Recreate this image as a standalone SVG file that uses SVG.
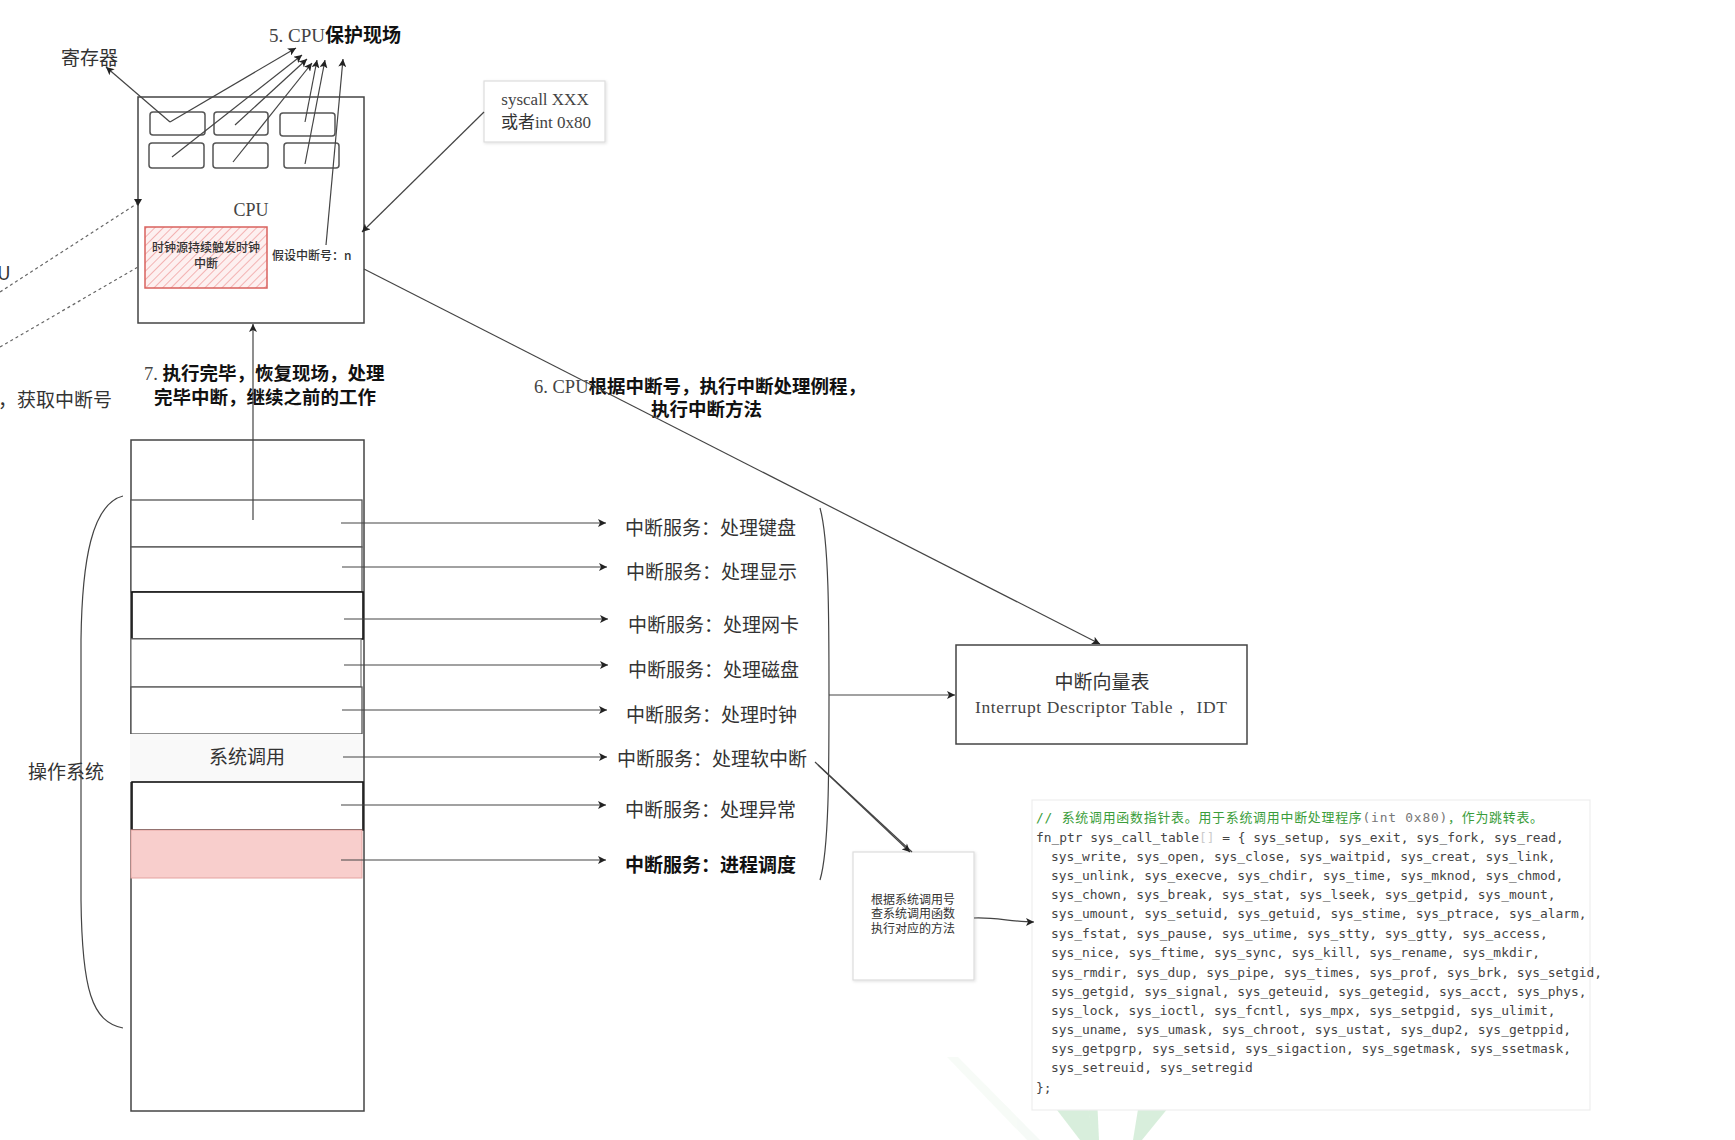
<svg xmlns="http://www.w3.org/2000/svg" width="1735" height="1140" viewBox="0 0 1735 1140">
<defs>
<style>
.ln{stroke:#444;stroke-width:1.2;fill:none}
.dash{stroke:#666;stroke-width:1.2;fill:none;stroke-dasharray:3 3}
.box{fill:#fff;stroke:#444;stroke-width:1.5}
.reg{fill:#fff;stroke:#555;stroke-width:1.5}
.cj{font-family:"Noto Sans CJK SC","Noto Sans",sans-serif;fill:#333}
.sf{font-family:"Liberation Serif","DejaVu Serif",serif;fill:#444}
.lbl{font-family:"Noto Sans CJK SC","Noto Sans",sans-serif;font-size:19px;fill:#333}
.bold{font-weight:bold;fill:#111}
.code{font-family:"DejaVu Sans Mono","Liberation Mono","Noto Sans CJK SC",monospace;font-size:12.9px;fill:#444}
.cmt{fill:#3a9d3a}
.light{fill:#fff;stroke:#ddd;stroke-width:1.2}
</style>
<marker id="arr" viewBox="0 0 10 10" refX="10" refY="5" markerWidth="9" markerHeight="8" markerUnits="userSpaceOnUse" orient="auto">
<path d="M0,0 L10,5 L0,10 L2.5,5 z" fill="#222"/>
</marker>
<pattern id="hatch" width="6" height="6" patternUnits="userSpaceOnUse" patternTransform="rotate(45)">
<rect width="6" height="6" fill="#fdf0f0"/>
<line x1="0" y1="0" x2="0" y2="6" stroke="#f3b3b3" stroke-width="2"/>
</pattern>
<filter id="sh" x="-10%" y="-10%" width="130%" height="130%">
<feDropShadow dx="1" dy="1" stdDeviation="1.5" flood-color="#000" flood-opacity="0.12"/>
</filter>
</defs>
<rect width="1735" height="1140" fill="#fff"/>

<g id="watermark" opacity="0.6">
<polygon points="947,1057 958,1057 1040,1140 1027,1140" fill="#f1f8f2"/>
<polygon points="1047,1097 1087,1097 1093,1140 1080,1140" fill="#bfe4c5"/>
<polygon points="1087,1097 1097,1097 1099,1140 1092,1140" fill="#bfe4c5"/>
<polygon points="1140,1097 1177,1097 1142,1140 1133,1140" fill="#bfe4c5"/>
<rect x="1032" y="1060" width="3" height="16" fill="#b6dfbd"/>
</g>

<g id="cpu">
<rect class="box" x="138" y="97" width="226" height="226"/>
<text class="sf" x="251" y="216" font-size="18" text-anchor="middle" fill="#555">CPU</text>
</g>
<g id="registers">
<rect class="reg" x="150" y="112" width="55" height="23" rx="3"/>
<rect class="reg" x="214" y="112" width="54" height="23" rx="3"/>
<rect class="reg" x="280" y="113" width="55" height="23" rx="3"/>
<rect class="reg" x="149" y="143" width="55" height="25" rx="3"/>
<rect class="reg" x="213" y="143" width="55" height="25" rx="3"/>
<rect class="reg" x="284" y="143" width="55" height="25" rx="3"/>
</g>
<g id="clock">
<rect x="145" y="227" width="122" height="61" fill="url(#hatch)" stroke="#d9625e" stroke-width="1.5"/>
<text class="cj" x="206" y="252" font-size="12" font-weight="500" text-anchor="middle" fill="#222">时钟源持续触发时钟</text>
<text class="cj" x="206" y="268" font-size="12" font-weight="500" text-anchor="middle" fill="#222">中断</text>
</g>
<g id="intno">
<text class="cj" x="272" y="260" font-size="12" font-weight="500" fill="#222">假设中断号：n</text>
</g>
<g id="reg-label">
<text class="lbl" x="61" y="65">寄存器</text>
</g>
<g id="step5">
<text x="269" y="42" font-size="19"><tspan class="sf" fill="#222">5. CPU</tspan><tspan class="cj bold">保护现场</tspan></text>
</g>
<g id="syscall">
<rect class="light" x="484" y="81" width="121" height="61" filter="url(#sh)"/>
<text class="sf" x="545" y="105" font-size="17" text-anchor="middle">syscall XXX</text>
<text x="546" y="128" font-size="17" text-anchor="middle"><tspan class="cj" fill="#444">或者</tspan><tspan class="sf">int 0x80</tspan></text>
</g>
<g id="left-texts">
<text class="lbl" x="-3" y="280" fill="#555">U</text>
<text class="lbl" x="-2" y="407" fill="#444">，获取中断号</text>
</g>
<g id="step7">
<text x="144" y="380" font-size="18.5"><tspan class="sf" fill="#222">7. </tspan><tspan class="cj bold">执行完毕，恢复现场，处理</tspan></text>
<text class="cj bold" x="154" y="404" font-size="18.5">完毕中断，继续之前的工作</text>
</g>
<g id="step6">
<text x="534" y="393" font-size="18.5"><tspan class="sf" fill="#222">6. CPU</tspan><tspan class="cj bold">根据中断号，执行中断处理例程，</tspan></text>
<text class="cj bold" x="651" y="416" font-size="18.5">执行中断方法</text>
</g>

<g id="os">
<rect class="box" x="131" y="440" width="233" height="671"/>
<rect x="131" y="500" width="231" height="47" fill="#fff" stroke="#555" stroke-width="1.3"/>
<rect x="131" y="547" width="231" height="45" fill="#fff" stroke="#555" stroke-width="1.3"/>
<rect x="132" y="592" width="231" height="47" fill="#fff" stroke="#111" stroke-width="1.6"/>
<rect x="131" y="639" width="230" height="48" fill="#fff" stroke="#777" stroke-width="1.2"/>
<rect x="131" y="687" width="231" height="47" fill="#fff" stroke="#555" stroke-width="1.3"/>
<rect x="130" y="734" width="233" height="48" fill="#f9f9f9" stroke="none"/>
<text class="lbl" x="247" y="764" text-anchor="middle">系统调用</text>
<rect x="132" y="782" width="231" height="48" fill="#fff" stroke="#111" stroke-width="1.6"/>
<rect x="131" y="830" width="231" height="48" fill="#f8cecc" stroke="#e5a3a0" stroke-width="1"/>
</g>
<g id="os-label">
<path class="ln" d="M123,496 C92,504 82,560 81,640 L81,900 C82,990 92,1022 123,1028" stroke="#555"/>
<text class="lbl" x="28" y="779">操作系统</text>
</g>

<g id="services">
<text class="lbl" x="625" y="535">中断服务：处理键盘</text>
<text class="lbl" x="626" y="579">中断服务：处理显示</text>
<text class="lbl" x="628" y="632">中断服务：处理网卡</text>
<text class="lbl" x="628" y="677">中断服务：处理磁盘</text>
<text class="lbl" x="626" y="722">中断服务：处理时钟</text>
<text class="lbl" x="617" y="766">中断服务：处理软中断</text>
<text class="lbl" x="625" y="817">中断服务：处理异常</text>
<text class="lbl bold" x="625" y="872">中断服务：进程调度</text>
<path class="ln" d="M820,508 C829,540 829,620 829,695 C829,770 829,850 820,880" stroke="#555"/>
</g>

<g id="idt">
<rect class="box" x="956" y="645" width="291" height="99"/>
<text class="lbl" x="1102" y="689" text-anchor="middle">中断向量表</text>
<text class="sf" x="975" y="713" font-size="17.5" textLength="252" lengthAdjust="spacing" fill="#555">Interrupt Descriptor Table， IDT</text>
</g>

<g id="lookup">
<rect class="light" x="853" y="852" width="121" height="128" filter="url(#sh)"/>
<text class="cj" x="913" y="904" font-size="12" text-anchor="middle">根据系统调用号</text>
<text class="cj" x="913" y="918" font-size="12" text-anchor="middle">查系统调用函数</text>
<text class="cj" x="913" y="933" font-size="12" text-anchor="middle">执行对应的方法</text>
</g>

<g id="code">
<rect x="1032" y="800" width="558" height="310" fill="#fff" stroke="#eee" stroke-width="1.2"/>
<text class="code cmt" x="1036" y="821.5" textLength="507" lengthAdjust="spacing">// 系统调用函数指针表。用于系统调用中断处理程序<tspan fill="#777">(int 0x80)</tspan>，作为跳转表。</text>
<text class="code" x="1036" y="841.5">fn_ptr sys_call_table<tspan fill="#ccc">[]</tspan> = { sys_setup, sys_exit, sys_fork, sys_read,</text>
<text class="code" x="1051" y="860.5">sys_write, sys_open, sys_close, sys_waitpid, sys_creat, sys_link,</text>
<text class="code" x="1051" y="879.5">sys_unlink, sys_execve, sys_chdir, sys_time, sys_mknod, sys_chmod,</text>
<text class="code" x="1051" y="898.5">sys_chown, sys_break, sys_stat, sys_lseek, sys_getpid, sys_mount,</text>
<text class="code" x="1051" y="917.5">sys_umount, sys_setuid, sys_getuid, sys_stime, sys_ptrace, sys_alarm,</text>
<text class="code" x="1051" y="937.5">sys_fstat, sys_pause, sys_utime, sys_stty, sys_gtty, sys_access,</text>
<text class="code" x="1051" y="956.5">sys_nice, sys_ftime, sys_sync, sys_kill, sys_rename, sys_mkdir,</text>
<text class="code" x="1051" y="976.5">sys_rmdir, sys_dup, sys_pipe, sys_times, sys_prof, sys_brk, sys_setgid,</text>
<text class="code" x="1051" y="995.5">sys_getgid, sys_signal, sys_geteuid, sys_getegid, sys_acct, sys_phys,</text>
<text class="code" x="1051" y="1014.5">sys_lock, sys_ioctl, sys_fcntl, sys_mpx, sys_setpgid, sys_ulimit,</text>
<text class="code" x="1051" y="1033.5">sys_uname, sys_umask, sys_chroot, sys_ustat, sys_dup2, sys_getppid,</text>
<text class="code" x="1051" y="1052.5">sys_getpgrp, sys_setsid, sys_sigaction, sys_sgetmask, sys_ssetmask,</text>
<text class="code" x="1051" y="1071.5">sys_setreuid, sys_setregid</text>
<text class="code" x="1036" y="1091.5" fill="#999">};</text>
</g>

<g id="connectors">
<line class="ln" x1="170" y1="122" x2="106" y2="67" marker-end="url(#arr)"/>
<line class="ln" x1="170" y1="122" x2="296" y2="48" marker-end="url(#arr)"/>
<line class="ln" x1="172" y1="157" x2="302" y2="55" marker-end="url(#arr)"/>
<line class="ln" x1="235" y1="125" x2="307" y2="59" marker-end="url(#arr)"/>
<line class="ln" x1="233" y1="162" x2="312" y2="63" marker-end="url(#arr)"/>
<line class="ln" x1="305" y1="122" x2="317" y2="60" marker-end="url(#arr)"/>
<line class="ln" x1="305" y1="164" x2="325" y2="60" marker-end="url(#arr)"/>
<line class="ln" x1="326" y1="245" x2="343" y2="59" marker-end="url(#arr)"/>
<line class="ln" x1="484" y1="112" x2="362" y2="232" marker-end="url(#arr)"/>
<line class="dash" x1="0" y1="292" x2="138" y2="203"/>
<polygon points="134,199 142,199 138,206" fill="#222"/>
<line class="dash" x1="0" y1="347" x2="138" y2="267"/>
<line class="ln" x1="253" y1="520" x2="253" y2="324" marker-end="url(#arr)"/>
<line class="ln" x1="364" y1="269" x2="1100" y2="644" marker-end="url(#arr)"/>
<line class="ln" x1="341" y1="523" x2="606" y2="523" marker-end="url(#arr)"/>
<line class="ln" x1="342" y1="567" x2="607" y2="567" marker-end="url(#arr)"/>
<line class="ln" x1="344" y1="619" x2="608" y2="619" marker-end="url(#arr)"/>
<line class="ln" x1="344" y1="665" x2="608" y2="665" marker-end="url(#arr)"/>
<line class="ln" x1="342" y1="710" x2="607" y2="710" marker-end="url(#arr)"/>
<line class="ln" x1="343" y1="757" x2="607" y2="757" marker-end="url(#arr)"/>
<line class="ln" x1="341" y1="805" x2="606" y2="805" marker-end="url(#arr)"/>
<line class="ln" x1="341" y1="860" x2="606" y2="860" marker-end="url(#arr)"/>
<line class="ln" x1="829" y1="695" x2="955" y2="695" marker-end="url(#arr)"/>
<line class="ln" x1="815" y1="762" x2="912" y2="852"/>
<line class="ln" x1="818" y1="765" x2="910" y2="852" marker-end="url(#arr)"/>
<path class="ln" d="M974,918 C995,917 1012,922 1034,922" marker-end="url(#arr)"/>
</g>
</svg>
